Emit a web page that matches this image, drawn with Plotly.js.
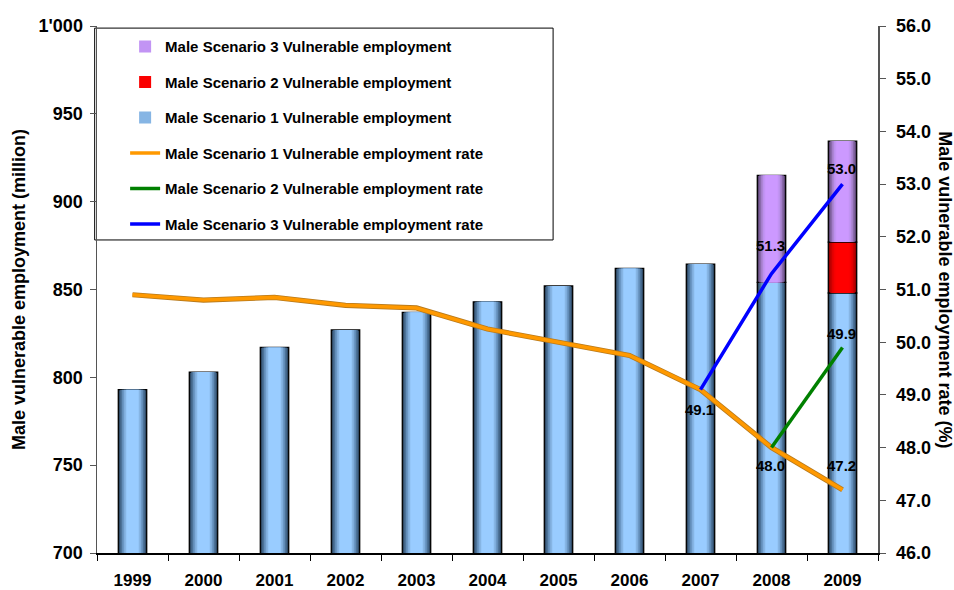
<!DOCTYPE html>
<html>
<head>
<meta charset="utf-8">
<script src="https://cdn.plot.ly/plotly-3.0.1.min.js"></script>
<style>
  html, body { margin: 0; padding: 0; background: #fff; }
  #chart { width: 954px; height: 590px; }
</style>
</head>
<body>
<div id="chart"></div>
<script>
// values
const years = ['1999', '2000', '2001', '2002', '2003', '2004', '2005', '2006', '2007', '2008', '2009'];

// employment in millions (scenario totals, not increments)
const s1Emp = [793, 803, 817, 827, 837, 843, 852, 862, 864.5, 854, 848];
const s2Emp = [null, null, null, null, null, null, null, null, null, 854, 877];
const s3Emp = [null, null, null, null, null, null, null, null, null, 915, 934.5];

// rates in percent
const s1Rate = [50.9, 50.8, 50.85, 50.7, 50.65, 50.25, 50.0, 49.75, 49.1, 48.0, 47.2];
const s2Rate = [null, null, null, null, null, null, null, null, null, 48.0, 49.9];
const s3Rate = [null, null, null, null, null, null, null, null, 49.1, 51.3, 53.0];

// which points get a value label
const s1Labelled = ['2007', '2008', '2009'];
const s2Labelled = ['2009'];
const s3Labelled = ['2008', '2009'];

const leftTicks = [700, 750, 800, 850, 900, 950, 1000];
const leftTickText = ['700', '750', '800', '850', '900', '950', "1'000"];

const FONT = 'Arial, "Liberation Sans", sans-serif';

// segments of the stacked bars: base and height worked out from the totals
const seg1Base = s1Emp.map(() => 0);
const seg1Height = s1Emp.slice();
const seg2Base = s2Emp.map((v, i) => v == null ? null : s1Emp[i]);
const seg2Height = s2Emp.map((v, i) => v == null ? null : v - s1Emp[i]);
const seg3Base = s3Emp.map((v, i) => v == null ? null : Math.max(s1Emp[i], s2Emp[i] || 0));
const seg3Height = s3Emp.map((v, i) => v == null ? null : v - seg3Base[i]);

// fake the shaded look of the original bars with nested overlaid bars
const BAR_W = 0.40;
const shadeSteps = [1.0, 0.86, 0.72, 0.58, 0.44];
const LEGEND_LAYER = 3;

function shadedBars(name, base, height, ramp, rank) {
  return shadeSteps.map((k, j) => ({
    type: 'bar',
    name: name,
    x: years,
    y: height,
    base: base,
    width: BAR_W * k,
    legendgroup: name,
    legendrank: rank,
    showlegend: j === LEGEND_LAYER,
    hoverinfo: j === 0 ? 'x+y+name' : 'skip',
    marker: {
      color: ramp[j],
      line: { color: j === 0 ? '#000000' : ramp[j], width: j === 0 ? 1.3 : 0 }
    }
  }));
}

function rateLine(name, values, color, width, rank) {
  return {
    type: 'scatter',
    mode: 'lines',
    name: name,
    x: years,
    y: values,
    yaxis: 'y2',
    legendgroup: name,
    legendrank: rank,
    line: { color: color, width: width },
    cliponaxis: false
  };
}

const blueRamp = ['#2f4a66', '#4d7399', '#6b97c4', '#86b5e4', '#99ccff'];
const redRamp = ['#9a0000', '#c80000', '#e80000', '#fa0000', '#ff0000'];
const purpleRamp = ['#5d4675', '#8a6aab', '#ad86d6', '#c294f4', '#cc99ff'];

// thin darker rim under the orange line, as in the original
const orangeRim = {
  type: 'scatter', mode: 'lines', x: years, y: s1Rate, yaxis: 'y2',
  showlegend: false, hoverinfo: 'skip',
  line: { color: '#b87a1c', width: 5.2 }
};

const data = [].concat(
  shadedBars('Male Scenario 1 Vulnerable employment', seg1Base, seg1Height, blueRamp, 3),
  shadedBars('Male Scenario 2 Vulnerable employment', seg2Base, seg2Height, redRamp, 2),
  shadedBars('Male Scenario 3 Vulnerable employment', seg3Base, seg3Height, purpleRamp, 1),
  [
    orangeRim,
    rateLine('Male Scenario 1 Vulnerable employment rate', s1Rate, '#ff9900', 3.6, 4),
    rateLine('Male Scenario 2 Vulnerable employment rate', s2Rate, '#008000', 3.5, 5),
    rateLine('Male Scenario 3 Vulnerable employment rate', s3Rate, '#0000ff', 3.5, 6)
  ]
);

// value labels, pinned to the data points; pixel nudges keep them clear of the lines
// (on a category axis annotations take the category index, not the label)
const labelShift = {
  s1: { '2007': -20, '2008': -18, '2009': 24 },
  s2: { '2009': 14 },
  s3: { '2008': 28, '2009': 16 }
};
function labelsFor(values, labelled, shifts) {
  return labelled.map(yr => {
    const i = years.indexOf(yr);
    return {
      x: i,
      y: values[i],
      xref: 'x',
      yref: 'y2',
      text: values[i].toFixed(1),
      showarrow: false,
      yshift: shifts[yr],
      xshift: -1,
      font: { family: FONT, size: 15, weight: 'bold', color: '#000000' }
    };
  });
}

const tickFont = { family: FONT, size: 18, weight: 'bold', color: '#000000' };
const titleFont = { family: FONT, size: 18, weight: 'bold', color: '#000000' };

const layout = {
  width: 954,
  height: 590,
  margin: { l: 97, r: 76, t: 26, b: 37 },
  paper_bgcolor: '#ffffff',
  plot_bgcolor: '#ffffff',
  barmode: 'overlay',
  showlegend: true,
  font: { family: FONT, color: '#000000' },
  xaxis: {
    type: 'category',
    range: [-0.5, years.length - 0.5],
    tickson: 'boundaries',
    ticks: 'outside',
    ticklen: 6,
    tickcolor: '#000000',
    showline: true,
    linecolor: '#000000',
    linewidth: 1.5,
    showgrid: false,
    ticklabelstandoff: 11,
    tickfont: { family: FONT, size: 17, weight: 'bold', color: '#000000' },
    fixedrange: true
  },
  yaxis: {
    range: [700, 1000],
    tickvals: leftTicks,
    ticktext: leftTickText,
    ticks: 'outside',
    ticklen: 6,
    tickcolor: '#555555',
    showline: true,
    linecolor: '#555555',
    linewidth: 1.5,
    showgrid: false,
    zeroline: false,
    ticklabelstandoff: 3,
    tickfont: tickFont,
    title: {
      text: 'Male vulnerable employment (million)',
      font: titleFont,
      standoff: 8
    }
  },
  yaxis2: {
    overlaying: 'y',
    side: 'right',
    range: [46, 56],
    dtick: 1,
    tickformat: '.1f',
    ticks: 'outside',
    ticklen: 6,
    tickcolor: '#555555',
    showline: true,
    linecolor: '#555555',
    linewidth: 1.5,
    showgrid: false,
    zeroline: false,
    ticklabelstandoff: 7,
    tickfont: tickFont
  },
  legend: {
    x: 0.036,
    y: 0.992,
    xanchor: 'left',
    yanchor: 'top',
    traceorder: 'grouped',
    tracegroupgap: 13,
    bgcolor: 'rgba(0,0,0,0)',
    borderwidth: 0,
    itemwidth: 30,
    font: { family: FONT, size: 15, weight: 'bold', color: '#000000' }
  },
  shapes: [{
    type: 'rect',
    xref: 'paper', yref: 'paper',
    x0: -0.003, x1: 0.584, y0: 0.594, y1: 0.996,
    line: { color: '#000000', width: 1 },
    fillcolor: 'rgba(255,255,255,1)',
    layer: 'below'
  }],
  annotations: [].concat(
    labelsFor(s1Rate, s1Labelled, labelShift.s1),
    labelsFor(s2Rate, s2Labelled, labelShift.s2),
    labelsFor(s3Rate, s3Labelled, labelShift.s3),
    [{
      text: 'Male vulnerable employment rate (%)',
      xref: 'paper', yref: 'paper',
      x: 1.086, y: 0.5,
      xanchor: 'center',
      showarrow: false,
      textangle: 90,
      font: titleFont
    }]
  )
};

Plotly.newPlot('chart', data, layout, { displayModeBar: false, staticPlot: true });
</script>
</body>
</html>
